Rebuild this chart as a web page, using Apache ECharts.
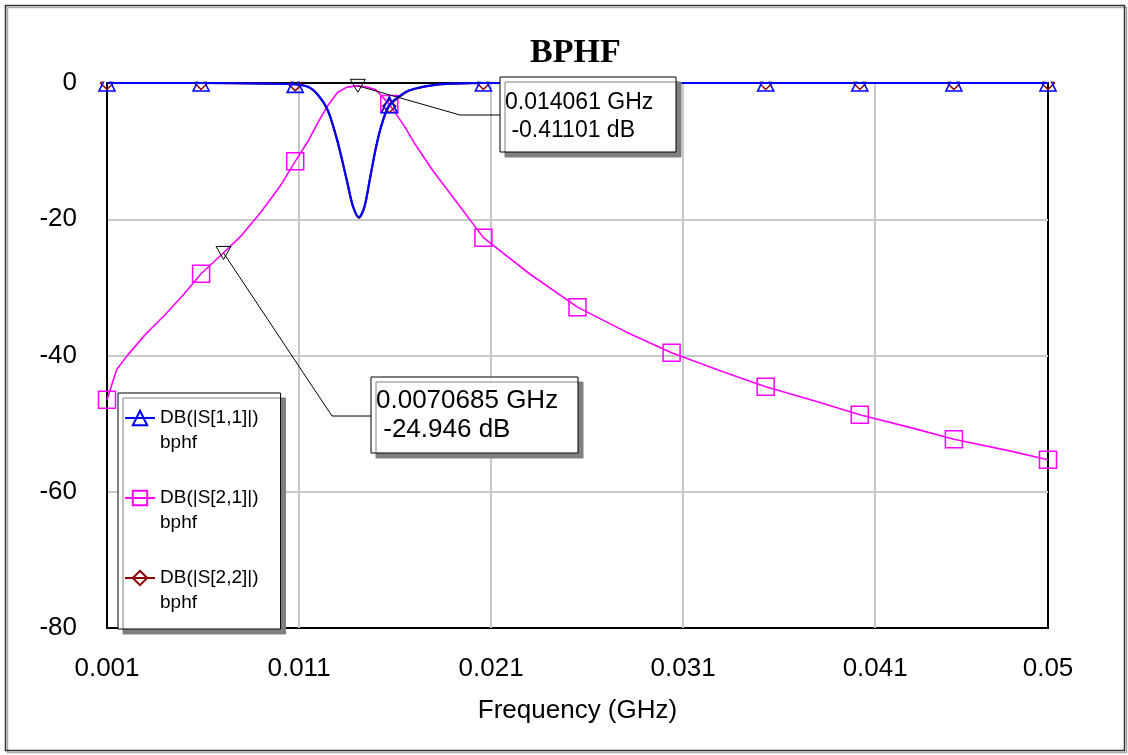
<!DOCTYPE html>
<html>
<head>
<meta charset="utf-8">
<title>BPHF</title>
<script src="https://cdn.jsdelivr.net/npm/echarts@6/dist/echarts.min.js"></script>
<style>
html,body{margin:0;padding:0;background:#fff;}
#main{width:1128px;height:755px;}
</style>
</head>
<body>
<div id="main"></div>
<script>
var F0 = 0.001;   // axis start (GHz)
var F1 = 0.05;    // axis end (GHz)

// points that carry a marker symbol
var markerFreqs = [0.001, 0.0059, 0.0108, 0.0157, 0.0206, 0.0255, 0.0304, 0.0353, 0.0402, 0.0451, 0.05];

// DB(|S[1,1]|)
var freqS11 = [0.001, 0.0059, 0.0095, 0.0108, 0.0115, 0.012, 0.0125, 0.013, 0.0135, 0.0138, 0.01412, 0.0144, 0.0147, 0.015, 0.0153, 0.0157, 0.0165, 0.017, 0.018, 0.019, 0.0206, 0.0255, 0.0304, 0.0353, 0.0402, 0.0451, 0.05];
var s11 = [0, 0, -0.1, -0.2, -0.6, -1.8, -4.0, -8.5, -14.4, -18.0, -19.7, -18.2, -13.9, -9.5, -6.1, -3.2, -1.4, -0.85, -0.3, -0.1, 0, 0, 0, 0, 0, 0, 0];

// DB(|S[2,1]|)
var freqS21 = [0.001, 0.0015, 0.002, 0.003, 0.004, 0.005, 0.0059, 0.007, 0.008, 0.009, 0.01, 0.0108, 0.0115, 0.012, 0.0125, 0.013, 0.0135, 0.014, 0.0145, 0.015, 0.0157, 0.0165, 0.017, 0.018, 0.019, 0.0206, 0.023, 0.0255, 0.028, 0.0304, 0.033, 0.0353, 0.038, 0.0402, 0.043, 0.0451, 0.048, 0.05];
var s21 = [-46.5, -42.1, -40.2, -36.9, -34.1, -31.0, -28.0, -25.1, -22.4, -19.0, -15.2, -11.5, -8.4, -5.7, -3.3, -1.4, -0.6, -0.42, -0.55, -1.0, -3.1, -6.4, -8.8, -13.0, -16.7, -22.7, -28.0, -32.9, -36.5, -39.6, -42.3, -44.6, -46.8, -48.7, -50.7, -52.3, -54.0, -55.3];

// DB(|S[2,2]|)
var freqS22 = [0.001, 0.0059, 0.0095, 0.0108, 0.0115, 0.012, 0.0125, 0.013, 0.0135, 0.0138, 0.01412, 0.0144, 0.0147, 0.015, 0.0153, 0.0157, 0.0165, 0.017, 0.018, 0.019, 0.0206, 0.0255, 0.0304, 0.0353, 0.0402, 0.0451, 0.05];
var s22 = [0, 0, -0.1, -0.2, -0.6, -1.8, -4.1, -8.6, -14.5, -18.1, -19.8, -18.3, -14.0, -9.6, -6.2, -3.4, -1.5, -0.9, -0.3, -0.1, 0, 0, 0, 0, 0, 0, 0];

// marker readouts
var markA = {f: 0.014061, db: -0.41101};
var markB = {f: 0.0070685, db: -24.946};

var sans = 'Liberation Sans, Arial, sans-serif';

function isMarker(f){
    for (var i = 0; i < markerFreqs.length; i++) {
        if (Math.abs(markerFreqs[i] - f) < 1e-9) return true;
    }
    return false;
}
function toData(freqs, vals){
    return freqs.map(function(f, i){
        var d = {value: [f - F0, vals[i]]};
        if (!isMarker(f)) d.symbol = 'none';
        return d;
    });
}

var chart = echarts.init(document.getElementById('main'));

var option = {
    animation: false,
    title: {
        text: 'BPHF',
        left: 530, top: 36, padding: 0, z: 20,
        textStyle: {fontFamily: 'Liberation Serif, Times New Roman, serif', fontWeight: 'bold', fontSize: 34, color: '#000'}
    },
    grid: {left: 107, right: 80, top: 83, bottom: 127, show: true, borderColor: '#000', borderWidth: 2, backgroundColor: '#fff'},
    legend: {
        orient: 'vertical', left: 118, top: 393,
        padding: [-12.5, 22, 13.5, 6],
        itemWidth: 30, itemHeight: 18, itemGap: 5,
        backgroundColor: '#fff', borderColor: '#000', borderWidth: 1,
        shadowColor: '#808080', shadowOffsetX: 5, shadowOffsetY: 5, shadowBlur: 0,
        selectedMode: false,
        data: ['DB(|S[1,1]|)', 'DB(|S[2,1]|)', 'DB(|S[2,2]|)'],
        // blank first line keeps the icon level with the name line
        formatter: function(n){ return '\n' + n + '\nbphf'; },
        textStyle: {fontFamily: sans, fontSize: 19, lineHeight: 25, color: '#000'}
    },
    xAxis: {
        type: 'value', min: 0, max: F1 - F0, interval: 0.01,
        name: 'Frequency (GHz)', nameLocation: 'middle', nameGap: 70,
        nameTextStyle: {fontFamily: sans, fontSize: 26, color: '#000'},
        axisLine: {lineStyle: {color: '#000', width: 2}},
        axisTick: {show: false},
        axisLabel: {
            fontFamily: sans, fontSize: 26, color: '#000', margin: 28,
            formatter: function(v){ return String(+(v + F0).toFixed(4)); }
        },
        splitLine: {show: true, showMinLine: false, showMaxLine: false, lineStyle: {color: '#c8c8c8', width: 2}}
    },
    yAxis: {
        type: 'value', min: -80, max: 0, interval: 20,
        axisLine: {show: true, lineStyle: {color: '#000', width: 2}},
        axisTick: {show: false},
        axisLabel: {fontFamily: sans, fontSize: 26, color: '#000', margin: 30},
        splitLine: {show: true, showMinLine: false, showMaxLine: false, lineStyle: {color: '#c8c8c8', width: 2}}
    },
    series: [
        {
            name: 'DB(|S[2,1]|)', type: 'line', z: 3,
            data: toData(freqS21, s21),
            symbol: 'rect', symbolSize: 17, showSymbol: true,
            lineStyle: {color: '#ff00ff', width: 1.6},
            itemStyle: {color: 'rgba(0,0,0,0)', borderColor: '#ff00ff', borderWidth: 1.5},
            emphasis: {disabled: true}
        },
        {
            name: 'DB(|S[2,2]|)', type: 'line', z: 4, smooth: 0.3,
            data: toData(freqS22, s22),
            symbol: 'diamond', symbolSize: 13, showSymbol: true,
            lineStyle: {color: '#8b0000', width: 2},
            itemStyle: {color: 'rgba(0,0,0,0)', borderColor: '#8b0000', borderWidth: 1.5},
            emphasis: {disabled: true}
        },
        {
            name: 'DB(|S[1,1]|)', type: 'line', z: 5, smooth: 0.3,
            data: toData(freqS11, s11),
            symbol: 'triangle', symbolSize: 16, showSymbol: true,
            lineStyle: {color: '#0000ff', width: 2.2},
            itemStyle: {color: 'rgba(0,0,0,0)', borderColor: '#0000ff', borderWidth: 1.6},
            emphasis: {disabled: true}
        }
    ]
};
chart.setOption(option);

// marker readout boxes
function readout(m, bend, box, fontSize, lh){
    var p = chart.convertToPixel({gridIndex: 0}, [m.f - F0, m.db]);
    var els = [];
    els.push({
        type: 'polyline', z: 30, silent: true,
        shape: {points: [p, bend, [box.x, bend[1]]]},
        style: {stroke: '#000', lineWidth: 1, fill: null}
    });
    els.push({
        type: 'polygon', z: 31, silent: true,
        shape: {points: [[p[0] - 7.5, p[1] - 6.5], [p[0] + 7.5, p[1] - 6.5], [p[0], p[1] + 6.5]]},
        style: {stroke: '#000', lineWidth: 1, fill: null}
    });
    els.push({
        type: 'rect', z: 32, silent: true,
        shape: {x: box.x, y: box.y, width: box.w, height: box.h},
        style: {fill: '#fff', stroke: '#000', lineWidth: 1, shadowColor: '#808080', shadowOffsetX: 5, shadowOffsetY: 5, shadowBlur: 0}
    });
    els.push({
        type: 'text', z: 33, silent: true,
        style: {
            x: box.x + 5, y: box.ty,
            text: m.f + ' GHz\n ' + m.db + ' dB',
            font: fontSize + 'px ' + sans, lineHeight: lh,
            fill: '#000', verticalAlign: 'top', align: 'left'
        }
    });
    return els;
}

var graphics = [
    // hides the parts of the 0 dB markers above the plot frame
    {type: 'rect', z: 10, silent: true, shape: {x: 90, y: 7, width: 975, height: 74.5}, style: {fill: '#fff'}},
    // outer frame
    {type: 'rect', z: 40, silent: true, shape: {x: 5.5, y: 5.5, width: 1119, height: 745},
        style: {fill: null, stroke: '#333', lineWidth: 1.5, shadowColor: '#aaa', shadowOffsetX: 2, shadowOffsetY: 2, shadowBlur: 0}}
];
graphics = graphics.concat(
    readout(markA, [460, 115], {x: 500, y: 77, w: 176, h: 75, ty: 89}, 23, 28),
    readout(markB, [332, 416], {x: 371, y: 377, w: 207, h: 76, ty: 386}, 26, 29)
);
chart.setOption({graphic: graphics});
</script>
</body>
</html>
